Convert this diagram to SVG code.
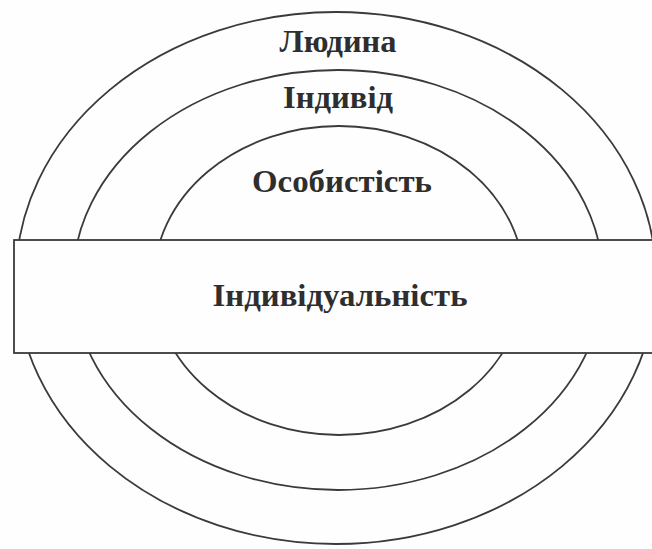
<svg xmlns="http://www.w3.org/2000/svg" width="652" height="549" viewBox="0 0 652 549">
<style>
.ring{fill:none;stroke:#3a3a3a;stroke-width:1.8}
.lbl{font-family:"Liberation Serif","DejaVu Serif",serif;font-weight:bold;fill:#2e2e2e;text-anchor:middle}
</style>
<rect width="652" height="549" fill="#fefefe"/>
<g id="lyudyna">
<ellipse class="ring" cx="336" cy="278" rx="320" ry="266"/>
<text class="lbl" x="338" y="52" font-size="31" textLength="117" lengthAdjust="spacingAndGlyphs">Людина</text>
</g>
<g id="indyvid">
<ellipse class="ring" cx="338" cy="280" rx="265" ry="210"/>
<text class="lbl" x="338" y="108" font-size="31" textLength="110" lengthAdjust="spacingAndGlyphs">Індивід</text>
</g>
<g id="osobystist">
<ellipse class="ring" cx="339" cy="280.5" rx="185" ry="154.5"/>
<text class="lbl" x="342" y="192" font-size="32" textLength="180" lengthAdjust="spacingAndGlyphs">Особистість</text>
</g>
<g id="indyvidualnist">
<rect x="14" y="240" width="650" height="113" fill="#fefefe" stroke="#3a3a3a" stroke-width="1.8"/>
<text class="lbl" x="340" y="306" font-size="31" textLength="255" lengthAdjust="spacingAndGlyphs">Індивідуальність</text>
</g>
</svg>
